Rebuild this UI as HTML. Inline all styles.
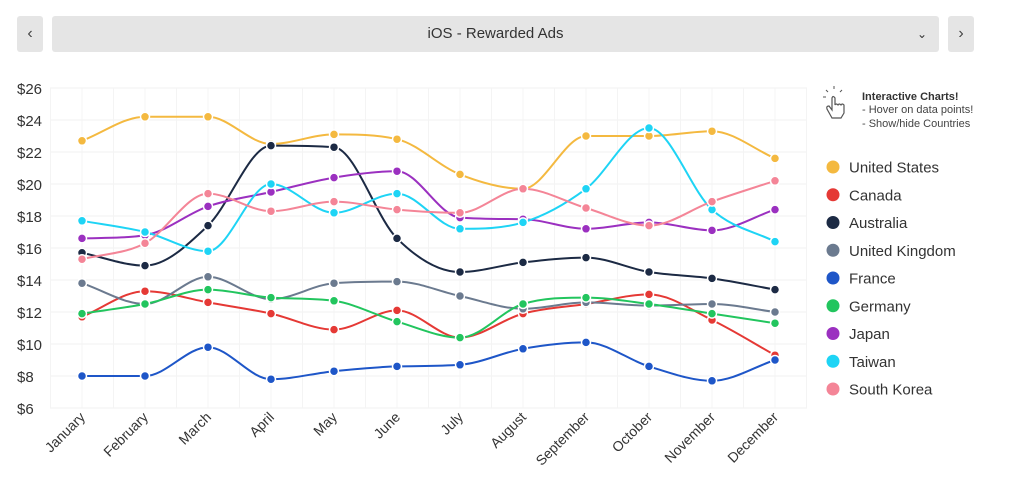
<!DOCTYPE html>
<html><head><style>
body{margin:0;width:1024px;height:502px;background:#fff;font-family:"Liberation Sans",sans-serif;overflow:hidden;position:relative}
.b{position:absolute;top:16px;height:36px;background:#e5e5e5;border-radius:3px;color:#444}
</style></head><body>
<div class="b" style="left:17px;width:26px;text-align:center;line-height:36px;font-size:16px">&#8249;</div>
<div class="b" style="left:52px;width:887px;text-align:center;line-height:36px;font-size:15px;color:#333">iOS - Rewarded Ads<span style="position:absolute;right:12px;font-size:12px">&#8964;</span></div>
<div class="b" style="left:948px;width:26px;text-align:center;line-height:36px;font-size:16px">&#8250;</div>
<svg id="s" width="1024" height="502" style="position:absolute;left:0;top:0"></svg>
<script>
const s=document.getElementById('s');let h='';
const X=i=>82+63*i,Y=v=>408-(v-6)*16;
for(let v=6;v<=26;v+=2){h+=`<line x1="50" x2="807" y1="${Y(v)}" y2="${Y(v)}" stroke="#f0f0f0"/><text x="17" y="${Y(v)+6}" font-size="15" fill="#333">$${v}</text>`;}
for(let i=0;i<25;i++){let x=50.5+31.5*i;h+=`<line x1="${x}" x2="${x}" y1="88" y2="408" stroke="#f4f4f4"/>`;}
const m=["January","February","March","April","May","June","July","August","September","October","November","December"];
m.forEach((t,i)=>{h+=`<text transform="translate(${X(i)+4},${418}) rotate(-45)" text-anchor="end" font-size="14" fill="#333">${t}</text>`;});
const D=[["United States","#f4b940",[22.7,24.2,24.2,22.5,23.1,22.8,20.6,19.7,23,23,23.3,21.6]],
["Canada","#e53935",[11.7,13.3,12.6,11.9,10.9,12.1,10.4,11.9,12.5,13.1,11.5,9.3]],
["Australia","#1c2a44",[15.7,14.9,17.4,22.4,22.3,16.6,14.5,15.1,15.4,14.5,14.1,13.4]],
["United Kingdom","#6b7a8f",[13.8,12.5,14.2,12.8,13.8,13.9,13.0,12.2,12.6,12.4,12.5,12.0]],
["France","#1e56c8",[8.0,8.0,9.8,7.8,8.3,8.6,8.7,9.7,10.1,8.6,7.7,9.0]],
["Germany","#22c55e",[11.9,12.5,13.4,12.9,12.7,11.4,10.4,12.5,12.9,12.5,11.9,11.3]],
["Japan","#9b30c0",[16.6,16.8,18.6,19.5,20.4,20.8,17.9,17.8,17.2,17.6,17.1,18.4]],
["Taiwan","#1ed4f5",[17.7,17.0,15.8,20.0,18.2,19.4,17.2,17.6,19.7,23.5,18.4,16.4]],
["South Korea","#f48597",[15.3,16.3,19.4,18.3,18.9,18.4,18.2,19.7,18.5,17.4,18.9,20.2]]];
D.forEach(([n,c,d],k)=>{const p=d.map((v,i)=>[X(i),Y(v)]);const N=p.length,dx=63;
const del=[];for(let i=0;i<N-1;i++)del.push((p[i+1][1]-p[i][1])/dx);
const mm=[];for(let i=0;i<N;i++){if(i==0)mm.push(del[0]);else if(i==N-1)mm.push(del[N-2]);else mm.push(del[i-1]*del[i]<=0?0:(del[i-1]+del[i])/2);}
for(let i=0;i<N-1;i++){if(del[i]==0){mm[i]=mm[i+1]=0;continue;}const a=mm[i]/del[i],b=mm[i+1]/del[i],q=a*a+b*b;if(q>9){const t=3/Math.sqrt(q);mm[i]=t*a*del[i];mm[i+1]=t*b*del[i];}}
let path=`M${p[0]}`;
for(let i=0;i<N-1;i++){const b=p[i],e=p[i+1];path+=` C${b[0]+dx/3},${b[1]+mm[i]*dx/3} ${e[0]-dx/3},${e[1]-mm[i+1]*dx/3} ${e}`;}
h+=`<path d="${path}" fill="none" stroke="${c}" stroke-width="2"/>`;
p.forEach(q=>h+=`<circle cx="${q[0]}" cy="${q[1]}" r="4.5" fill="${c}" stroke="#fff" stroke-width="1.5"/>`);
const ly=167+27.75*k;h+=`<circle cx="833" cy="${ly}" r="6.5" fill="${c}"/><text x="849" y="${ly+5.5}" font-size="15" fill="#333">${n}</text>`;});
h+=`<text x="862" y="100" font-size="11" font-weight="bold" fill="#333">Interactive Charts!</text><text x="862" y="113" font-size="11" fill="#444">- Hover on data points!</text><text x="862" y="127" font-size="11" fill="#444">- Show/hide Countries</text>`;
h+=`<path d="M832 118 l-5-9 q-1-3 2-3 l3 4 v-12 q1-3 3 0 v7 q1-2 3 0 q1-2 3 0 q1-2 3 0 v8 l-3 5z" fill="none" stroke="#555" stroke-width="1.2"/><path d="M828 92l-2-2M834 89v-3M840 92l2-2M826 97h-3" stroke="#555"/>`;
s.innerHTML=h;
</script>
</body></html>
